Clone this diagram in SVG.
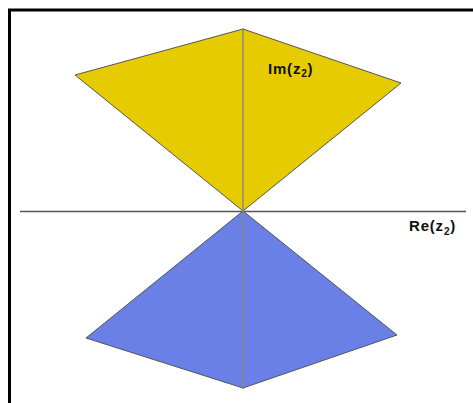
<svg xmlns="http://www.w3.org/2000/svg" width="473" height="403" viewBox="0 0 473 403">
<style>
.lbl{font-family:"Liberation Sans",Arial,sans-serif;font-weight:bold;font-size:15px;letter-spacing:0.8px;fill:#111}
.sub{font-size:10px}
.edge{stroke:#555;stroke-width:1;stroke-linejoin:round}
</style>
<rect width="473" height="403" fill="#fff"/>
<g id="frame">
<path d="M9.5 403 V10 H473" fill="none" stroke="#000" stroke-width="3"/>
</g>
<g id="upper-cone">
<polygon class="edge" points="243,29 401,83 243,211 75,75" fill="#E6CB00"/>
</g>
<g id="lower-cone">
<polygon class="edge" points="243,211 397,335 243,388 86,338" fill="#6A80E6"/>
</g>
<g id="axes">
<line x1="20" y1="211.5" x2="466" y2="211.5" stroke="#555" stroke-width="1.5"/>
<line x1="243" y1="28" x2="243" y2="389" stroke="#888" stroke-width="1.5"/>
</g>
<g id="labels">
<text class="lbl" x="268" y="74">Im(z<tspan class="sub" dy="3">2</tspan><tspan dy="-3">)</tspan></text>
<text class="lbl" x="409" y="231">Re(z<tspan class="sub" dy="4">2</tspan><tspan dy="-4">)</tspan></text>
</g>
</svg>
